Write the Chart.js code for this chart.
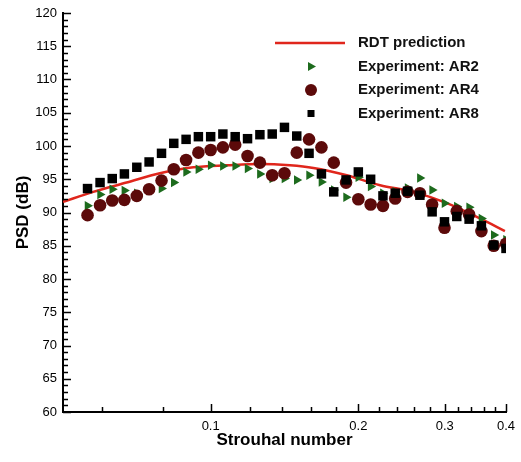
<!DOCTYPE html>
<html>
<head>
<meta charset="utf-8">
<script src="https://cdn.jsdelivr.net/npm/chart.js@4.4.1/dist/chart.umd.min.js"></script>
<style>
  body { margin: 0; background: #fff; }
</style>
</head>
<body>
<canvas id="psdChart" width="521" height="462"></canvas>
<script>
// 1/12-octave band centres (Strouhal number)
var strouhal = [0.0561, 0.0595, 0.0630, 0.0667, 0.0707, 0.0749, 0.0794, 0.0841, 0.0891, 0.0944,
                0.1, 0.1059, 0.1122, 0.1189, 0.1260, 0.1335, 0.1414, 0.1498, 0.1587, 0.1682,
                0.1782, 0.1888, 0.2, 0.2119, 0.2245, 0.2378, 0.2520, 0.2670, 0.2828, 0.2997,
                0.3175, 0.3364, 0.3564, 0.3776, 0.4];

var ar2 = [91.0, 92.7, 93.5, 93.3, 92.9, 93.3, 93.6, 94.5, 96.1, 96.5,
           97.1, 97.0, 97.0, 96.6, 95.8, 95.1, 95.1, 94.9, 95.6, 94.6,
           93.4, 92.3, 95.3, 93.9, 92.9, 93.1, 93.7, 95.2, 93.4, 91.4,
           90.9, 90.8, 89.1, 86.6, 85.9];
var ar4 = [89.6, 91.1, 91.8, 91.9, 92.5, 93.5, 94.8, 96.5, 97.9, 99.0,
           99.4, 99.8, 100.2, 98.5, 97.5, 95.6, 95.9, 99.0, 101.0, 99.8,
           97.5, 94.5, 92.0, 91.2, 91.0, 92.1, 93.1, 92.9, 91.2, 87.7,
           90.2, 89.7, 87.2, 85.0, 85.3];
var ar8 = [93.6, 94.5, 95.1, 95.8, 96.8, 97.6, 98.9, 100.4, 101.0, 101.4,
           101.4, 101.8, 101.4, 101.1, 101.7, 101.8, 102.8, 101.5, 98.9, 95.8,
           93.1, 94.9, 96.1, 95.0, 92.5, 92.9, 93.2, 92.6, 90.1, 88.6,
           89.4, 89.0, 88.0, 85.1, 84.6];

// RDT prediction curve
var rdtSt = [0.05, 0.0576, 0.0674, 0.0788, 0.0922, 0.1078, 0.126, 0.1451, 0.162, 0.1894,
             0.2215, 0.2589, 0.303, 0.3541, 0.398];
var rdtPsd = [91.6, 93.1, 94.5, 95.9, 96.8, 97.1, 97.3, 97.1, 96.7, 95.6,
              94.1, 93.1, 91.4, 89.1, 87.2];

var xTicks = [0.06, 0.08, 0.1, 0.12, 0.14, 0.16, 0.18, 0.2, 0.22, 0.24, 0.26, 0.28,
              0.3, 0.32, 0.34, 0.36, 0.38, 0.4];
var xLabels = [0.1, 0.2, 0.3, 0.4];

var legendItems = ['RDT prediction', 'Experiment: AR2', 'Experiment: AR4', 'Experiment: AR8'];

var red = '#e0261c', green = '#1d6b1d', maroon = '#5c0a0a', black = '#000';

function pts(xs, ys) {
    return xs.map(function(x, i) { return { x: x, y: ys[i] }; });
}

function fixSize(prop, val) {
    return function(s) {
        s[prop] = val;
        s.paddingLeft = s.paddingRight = s.paddingTop = s.paddingBottom = 0;
    };
}

// inward tick marks + legend, tecplot style
var decorations = {
    id: 'decorations',
    afterDraw: function(chart) {
        var ctx = chart.ctx, area = chart.chartArea;
        var xs = chart.scales.x, ys = chart.scales.y;
        ctx.save();
        ctx.strokeStyle = black;
        ctx.lineWidth = 1.5;
        ctx.beginPath();
        xs.ticks.forEach(function(t) {
            var px = Math.round(xs.getPixelForValue(t.value)) + 0.5;
            var len = xLabels.indexOf(t.value) >= 0 ? 8 : 5;
            ctx.moveTo(px, area.bottom);
            ctx.lineTo(px, area.bottom - len);
        });
        ys.ticks.forEach(function(t) {
            var py = Math.round(ys.getPixelForValue(t.value)) + 0.5;
            var len = t.value % 5 === 0 ? 8 : 5;
            ctx.moveTo(area.left, py);
            ctx.lineTo(area.left + len, py);
        });
        ctx.stroke();

        // legend
        var mx = 311, tx = 358, y0 = 43, dy = 23.5;
        ctx.font = 'bold 15px "Liberation Sans", Arial, sans-serif';
        ctx.fillStyle = '#111';
        ctx.textBaseline = 'middle';
        legendItems.forEach(function(label, i) {
            ctx.fillText(label, tx, y0 + i * dy);
        });
        ctx.strokeStyle = red;
        ctx.lineWidth = 2.5;
        ctx.beginPath();
        ctx.moveTo(275, y0);
        ctx.lineTo(345, y0);
        ctx.stroke();
        var y = y0 + dy;
        ctx.fillStyle = green;
        ctx.beginPath();
        ctx.moveTo(mx + 5, y);
        ctx.lineTo(mx - 3, y - 4.5);
        ctx.lineTo(mx - 3, y + 4.5);
        ctx.closePath();
        ctx.fill();
        y += dy;
        ctx.fillStyle = maroon;
        ctx.beginPath();
        ctx.arc(mx, y, 6, 0, Math.PI * 2);
        ctx.fill();
        y += dy;
        ctx.fillStyle = black;
        ctx.fillRect(mx - 3.5, y - 3.5, 7, 7);
        ctx.restore();
    }
};

Chart.defaults.font.family = '"Liberation Sans", Arial, sans-serif';
Chart.defaults.color = '#000';

var ctx = document.getElementById('psdChart');
new Chart(ctx, {
    type: 'scatter',
    data: {
        datasets: [{
            label: legendItems[0],
            data: pts(rdtSt, rdtPsd),
            showLine: true,
            borderColor: red,
            borderWidth: 2.5,
            pointRadius: 0,
            cubicInterpolationMode: 'monotone',
            order: 4
        }, {
            label: legendItems[1],
            data: pts(strouhal, ar2),
            pointStyle: 'triangle',
            rotation: 90,
            pointRadius: 5.5,
            backgroundColor: green,
            borderColor: green,
            borderWidth: 0,
            order: 3
        }, {
            label: legendItems[2],
            data: pts(strouhal, ar4),
            pointStyle: 'circle',
            pointRadius: 6.3,
            backgroundColor: maroon,
            borderColor: maroon,
            borderWidth: 0,
            order: 2
        }, {
            label: legendItems[3],
            data: pts(strouhal, ar8),
            pointStyle: 'rect',
            pointRadius: 6.7,
            backgroundColor: black,
            borderColor: black,
            borderWidth: 0,
            order: 1
        }]
    },
    options: {
        responsive: false,
        animation: false,
        layout: { padding: { top: 13, right: 15, left: 0, bottom: 0 } },
        plugins: {
            legend: { display: false },
            tooltip: { enabled: false }
        },
        scales: {
            x: {
                type: 'logarithmic',
                min: 0.05,
                max: 0.4,
                afterBuildTicks: function(s) {
                    s.ticks = xTicks.map(function(v) { return { value: v }; });
                },
                afterFit: fixSize('height', 50),
                grid: { display: false, drawTicks: false },
                border: { display: true, color: black, width: 2 },
                ticks: {
                    autoSkip: false,
                    maxRotation: 0,
                    padding: 7,
                    font: { size: 13 },
                    callback: function(v) {
                        return xLabels.indexOf(v) >= 0 ? String(v) : '';
                    }
                },
                title: {
                    display: true,
                    text: 'Strouhal number',
                    font: { size: 17, weight: 'bold' },
                    padding: { top: 0, bottom: 11 }
                }
            },
            y: {
                min: 60,
                max: 120,
                afterFit: fixSize('width', 63),
                grid: { display: false, drawTicks: false },
                border: { display: true, color: black, width: 2 },
                ticks: {
                    stepSize: 1,
                    autoSkip: false,
                    padding: 6,
                    font: { size: 13 },
                    callback: function(v) {
                        return v % 5 === 0 ? String(v) : '';
                    }
                },
                title: {
                    display: true,
                    text: 'PSD (dB)',
                    font: { size: 17, weight: 'bold' },
                    padding: { top: 13, bottom: 0 }
                }
            }
        }
    },
    plugins: [decorations]
});
</script>
</body>
</html>
